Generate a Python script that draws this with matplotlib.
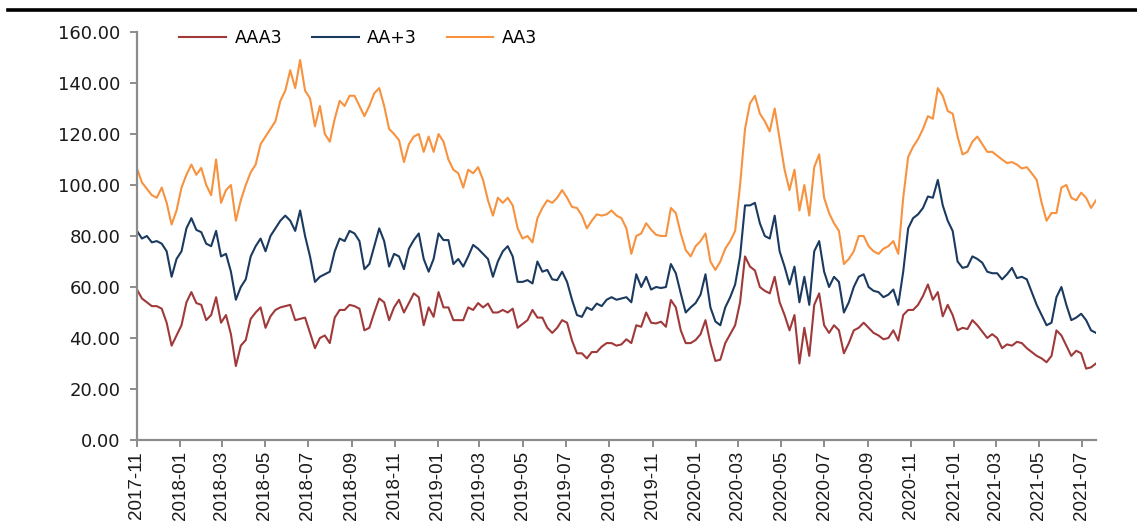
import matplotlib
matplotlib.use('agg')
import matplotlib.pyplot as plt
import matplotlib.dates as mdates
from matplotlib.lines import Line2D
from matplotlib.ticker import MultipleLocator, FormatStrFormatter
import pandas as pd

# 周度数据：2017-11 起
dates = pd.date_range('2017-11-01', periods=195, freq='7D')

aaa3 = [
    59, 55.5, 54, 52.5, 52.5, 51.5, 46, 37, 41, 45,
    54, 58, 53.7, 53, 47, 49, 56, 46, 49, 41.5,
    29, 37, 39.2, 47.5, 50, 52, 44, 48.5, 51, 52,
    52.5, 53, 47, 47.5, 48, 42, 36, 40, 41, 38,
    48, 51, 51, 53, 52.5, 51.5, 43, 44, 50, 55.5,
    54, 47, 52, 55, 50, 53.7, 57.5, 56, 45, 52,
    48.3, 58, 52, 52, 47, 47, 47, 52, 51, 53.7,
    52, 53.5, 50, 50, 51, 50, 51.5, 44, 45.5, 47,
    51, 48, 48, 44, 42, 44, 47, 46, 39, 34,
    34, 32, 34.5, 34.5, 36.6, 38, 38, 37, 37.5, 39.5,
    38, 45, 44.4, 50, 46, 45.7, 46.4, 44.4, 54.9, 52,
    43, 38, 38, 39.2, 41.5, 47, 38, 31, 31.5, 38,
    41.5, 45, 54, 72, 68, 66.5, 60, 58.5, 57.5, 64,
    54, 49, 43, 49, 30, 44, 33, 53, 57.5, 45,
    42, 45, 43, 34, 38, 43, 44, 46, 44, 42,
    41, 39.5, 40, 43, 39, 49, 51, 51, 53, 56.5,
    61, 55, 58, 48.5, 53, 49, 43, 44, 43.5, 47,
    45, 42.5, 40, 41.5, 40, 36, 37.5, 37, 38.5, 38,
    36, 34.5, 33, 32, 30.5, 33, 43, 41, 37, 33,
    35, 34, 28, 28.5, 30,
]

aa_plus3 = [
    82, 79, 80, 77.5, 78, 77, 74, 64, 71, 74,
    83, 87, 82.4, 81.5, 77, 76, 82, 72, 73, 66,
    55, 60, 63, 72, 76, 79, 74, 80, 83, 86,
    88, 86, 82, 90, 80, 72, 62, 64, 65, 66,
    74, 79, 78, 82, 81, 78, 67, 69, 76, 83,
    78, 68, 73, 72, 67, 75, 78.4, 81, 71, 66,
    71, 81, 78.4, 78.4, 69, 71, 68, 72, 76.5, 75,
    73, 71, 64, 70, 74, 76, 72, 62, 62, 62.7,
    61.4, 70, 66, 66.7, 63, 62.7, 66, 62, 55, 49,
    48.3, 52, 51, 53.5, 52.5, 55, 56, 55, 55.5, 56,
    54, 65, 60, 64, 59, 60, 59.6, 60, 69, 65.4,
    57.5, 50, 52, 53.7, 57, 65, 52, 46.5, 45, 52,
    56, 61, 72, 92, 92, 93, 85, 80, 79, 88,
    74, 68, 61, 68, 54, 64, 53, 74, 78, 66,
    60, 64, 62, 50, 54, 60, 64, 65, 60, 58.5,
    58, 56, 57, 59, 53, 66, 83, 87, 88.5, 91,
    95.5, 95, 102, 92, 86, 82, 70, 67.5, 68, 72,
    71, 69.5, 66, 65.4, 65.4, 63, 65, 67.5, 63.5, 64,
    63, 58, 53, 49, 45, 46, 56, 60, 53, 47,
    48, 49.5, 47, 43, 42,
]

aa3 = [
    106.5, 101, 98.5, 96, 95, 99, 93, 84.5, 90, 99,
    104, 108, 104, 106.7, 100, 96, 110, 93, 98, 100,
    86, 94, 100, 105, 108, 116, 119, 122, 125, 133,
    137, 145, 138, 149, 137, 134, 123, 131, 120, 117,
    126, 133, 131, 135, 135, 131, 127, 131, 136, 138,
    131, 122, 120, 117.6, 109, 116, 119, 120, 113, 119,
    113, 120, 117, 110, 106, 104.6, 99, 106, 104.6, 107,
    102, 94, 88, 95, 93, 95, 92, 83, 79, 80,
    77.5, 87, 91, 94, 93, 95, 98, 95, 91.4, 91,
    88, 83, 86, 88.5, 88, 88.5, 90, 88, 87, 83,
    73, 80, 81, 85, 82.5, 80.5, 80, 80, 91, 89,
    81, 74.5, 72, 76, 78, 81, 70, 66.7, 70, 75,
    78, 82, 100, 122, 132, 135, 128, 125, 121, 130,
    118, 106, 98, 106, 90, 100, 88, 107, 112, 95,
    89, 85, 82, 69, 71, 74, 80, 80, 76, 74,
    73, 75, 76, 78, 73, 95, 111, 115, 118, 122,
    127, 126, 138, 135, 129, 128, 119, 112, 113, 117,
    119, 116, 113, 113, 111.5, 110, 108.6, 109, 108, 106.5,
    107, 104.6, 102, 93, 86, 89, 89, 99, 100, 95,
    94, 97, 95, 91, 94,
]

series_names = ['AAA3', 'AA+3', 'AA3']
series_colors = ['#A0393A', '#1B3A60', '#F7923E']

fig = plt.figure(figsize=(11.37, 5.26), dpi=100)
ax = fig.add_axes([137 / 1137, 1 - 440 / 526, (1096 - 137) / 1137, (440 - 32) / 526])

for vals, name, col in zip([aaa3, aa_plus3, aa3], series_names, series_colors):
    ax.plot(dates, vals, color=col, lw=1.5, label=name)

# 坐标轴
ax.set_xlim(dates[0], dates[-1])
ax.set_ylim(0, 160)
ax.yaxis.set_major_locator(MultipleLocator(20))
ax.yaxis.set_major_formatter(FormatStrFormatter('%.2f'))
ax.xaxis.set_major_locator(mdates.MonthLocator(bymonth=[1, 3, 5, 7, 9, 11]))
ax.xaxis.set_major_formatter(mdates.DateFormatter('%Y-%m'))

for s in ['top', 'right']:
    ax.spines[s].set_visible(False)
for s in ['left', 'bottom']:
    ax.spines[s].set_color('#8c8c8c')
    ax.spines[s].set_linewidth(1.6)

ax.tick_params(axis='both', direction='out', length=5, width=1.4, color='#8c8c8c')
ax.tick_params(axis='y', labelsize=13, labelcolor='#1a1a1a', pad=7)
ax.tick_params(axis='x', pad=3)
for lab in ax.get_xticklabels():
    lab.set_rotation(90)
    lab.set_family(['Liberation Sans Narrow', 'Liberation Sans'])
    lab.set_fontsize(13.5)
    lab.set_color('#1a1a1a')

leg = ax.legend(loc='center left', bbox_to_anchor=(172 / 1137, 1 - 38 / 526),
                bbox_transform=fig.transFigure, ncol=3, frameon=False,
                fontsize=12.5, handlelength=2.7, handletextpad=0.5,
                columnspacing=1.7, borderaxespad=0)
for h in leg.get_lines():
    h.set_linewidth(1.5)

# 顶部分隔线
fig.add_artist(Line2D([8 / 1137, 1], [1 - 10 / 526] * 2, color='black', lw=2.6))

fig.savefig('out.png', dpi=100)
